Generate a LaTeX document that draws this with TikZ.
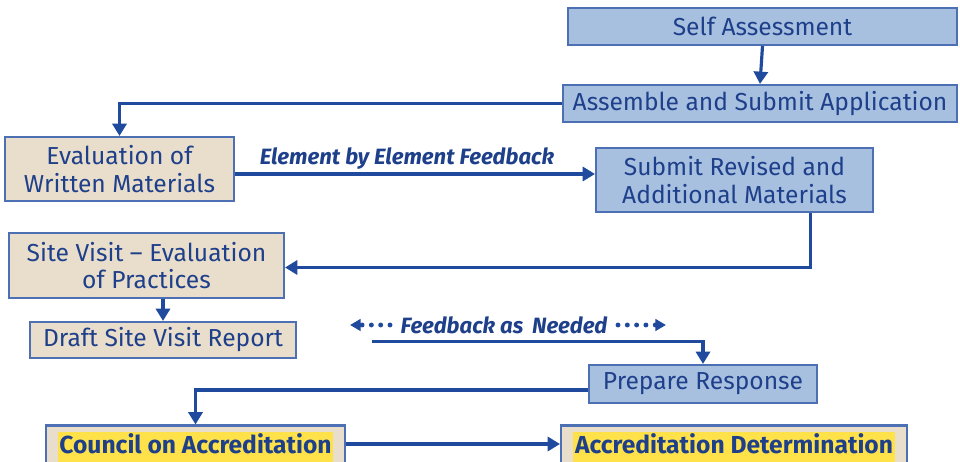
\documentclass[tikz,border=0pt]{standalone}
\usepackage{fontspec}
\setmainfont{Fira Sans}
\usetikzlibrary{arrows.meta,calc}
\definecolor{ink}{HTML}{1E3F8A}
\definecolor{linkblue}{HTML}{1F4A9E}
\definecolor{boxblue}{HTML}{A8C0E0}
\definecolor{edgeblue}{HTML}{4D6FB3}
\definecolor{tan}{HTML}{E9DECB}
\definecolor{hilite}{HTML}{FFE24A}
\tikzset{
  box/.style={draw=edgeblue, line width=1.2pt, text=ink, align=center,
    font=\fontsize{14}{15.5}\selectfont, inner sep=0pt},
  bluebox/.style={box, fill=boxblue},
  tanbox/.style={box, fill=tan},
  link/.style={draw=linkblue, line width=1.8pt},
  arr/.style={link, -{Triangle[length=7pt,width=8pt]}},
  dotarr/.style={draw=linkblue, line width=2.8pt, dash pattern=on 0pt off 5.3pt,
    line cap=round, -{Triangle[length=6pt,width=6.5pt]}},
  note/.style={text=ink, font=\fontsize{12.6}{14}\selectfont\bfseries\itshape, inner sep=0pt},
}
\begin{document}
\begin{tikzpicture}[x=0.02cm, y=-0.02cm]
\useasboundingbox[fill=white] (0,0) rectangle (960,462);
\begin{scope}
\clip (0,0) rectangle (960,462);

% process boxes
\node[bluebox, minimum width=7.78cm, minimum height=0.74cm] (selfa) at (762.5,26.5) {Self Assessment};
\node[bluebox, minimum width=7.88cm, minimum height=0.74cm] (assemble) at (760,103.5) {Assemble and Submit Application};
\node[tanbox, minimum width=4.58cm, minimum height=1.28cm] (evalw) at (119.5,169) {Evaluation of\\Written Materials};
\node[bluebox, minimum width=5.54cm, minimum height=1.28cm] (submitr) at (734.5,180) {Submit Revised and\\Additional Materials};
\node[tanbox, minimum width=5.5cm, minimum height=1.30cm] (sitev) at (146.5,265.5) {Site Visit -- Evaluation\\of Practices};
\node[tanbox, minimum width=5.32cm, minimum height=0.72cm] (draft) at (163,340) {Draft Site Visit Report};
\node[bluebox, minimum width=4.56cm, minimum height=0.76cm] (prep) at (703,384) {Prepare Response};
\node[tanbox, minimum width=5.98cm, minimum height=0.90cm] (council) at (195.5,448)
  {\setlength{\fboxsep}{1pt}\colorbox{hilite}{\bfseries\strut Council on Accreditation}};
\node[tanbox, minimum width=6.92cm, minimum height=0.90cm] (accdet) at (734,448)
  {\setlength{\fboxsep}{1pt}\colorbox{hilite}{\bfseries\strut Accreditation Determination}};

% connectors
\draw[arr] (selfa.south) -- (assemble.north);
\draw[arr] (assemble.west) -- (evalw.north |- assemble.west) -- (evalw.north);
\coordinate (ewout) at ($(evalw.east)+(0,5)$);
\draw[arr] (ewout) -- (submitr.west |- ewout);
\node[note] (ebe) at (407,159) {Element by Element Feedback};
\coordinate (srout) at ($(submitr.south)+(76,0)$);
\draw[arr] (srout) -- (srout |- {$(sitev.east)+(0,2)$}) -- ($(sitev.east)+(0,2)$);
\draw[arr] (draft.north |- sitev.south) -- (draft.north);

% feedback note with dotted arrows
\node[note] (fan) at (504,325) {Feedback as\, Needed};
\coordinate (fl) at (390,325);
\coordinate (fr) at (618,325);
\draw[dotarr] (fl) -- (350,325);
\draw[dotarr] (fr) -- (666,325);
\coordinate (fbstart) at (372,341.5);
\draw[arr] (fbstart) -- (prep.north |- fbstart) -- (prep.north);

\coordinate (prout) at ($(prep.west)+(0,6)$);
\draw[arr] (prout) -- (council.north |- prout) -- (council.north);
\coordinate (caout) at ($(council.east)+(0,-4)$);
\draw[arr] (caout) -- (accdet.west |- caout);
\end{scope}
\end{tikzpicture}
\end{document}
